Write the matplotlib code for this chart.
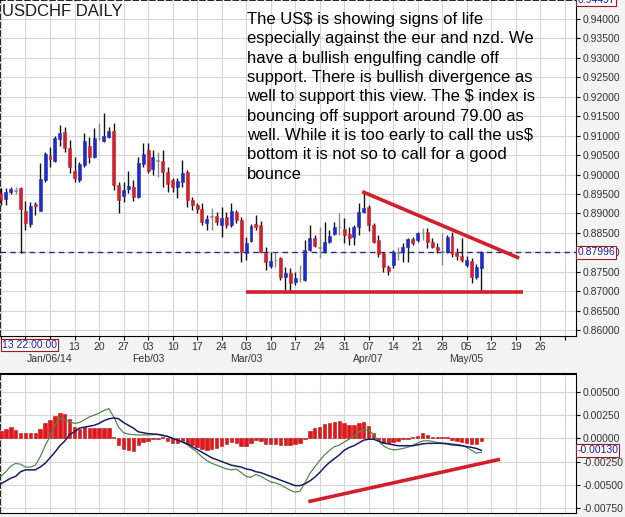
"""USDCHF daily candles with MACD panel"""
import numpy as np
import matplotlib
matplotlib.use("Agg")
from matplotlib import pyplot as plt
from matplotlib.ticker import FormatStrFormatter

plt.rcParams['font.family'] = ['Liberation Sans', 'DejaVu Sans']

# trading day index, 0 = Mon Jan 06 2014
days = np.arange(-10, 89)
opens = [0.8952, 0.8937, 0.8955, 0.8960, 0.8965, 0.8907, 0.8872, 0.8924, 0.8907, 0.8986,
         0.9047, 0.9036, 0.9091, 0.9110, 0.9069, 0.9008, 0.8986, 0.9025, 0.9074, 0.9046,
         0.9095, 0.9085, 0.9096, 0.9113, 0.8973, 0.8945, 0.8962, 0.8969, 0.8942, 0.9027,
         0.9062, 0.9015, 0.9037, 0.9036, 0.9007, 0.8986, 0.8969, 0.8982, 0.9007, 0.8934,
         0.8922, 0.8911, 0.8876, 0.8891, 0.8893, 0.8870, 0.8890, 0.8870, 0.8904, 0.8882,
         0.8798, 0.8829, 0.8873, 0.8870, 0.8797, 0.8764, 0.8780, 0.8785, 0.8736, 0.8747,
         0.8724, 0.8731, 0.8729, 0.8806, 0.8836, 0.8811, 0.8802, 0.8826, 0.8847, 0.8866,
         0.8859, 0.8846, 0.8840, 0.8866, 0.8904, 0.8916, 0.8870, 0.8832, 0.8797, 0.8763,
         0.8767, 0.8799, 0.8801, 0.8814, 0.8833, 0.8832, 0.8849, 0.8851, 0.8827, 0.8814,
         0.8802, 0.8801, 0.8842, 0.8801, 0.8790, 0.8767, 0.8778, 0.8736, 0.8760]
highs = [0.8966, 0.8966, 0.8969, 0.8969, 0.8967, 0.8933, 0.8930, 0.8930, 0.9029, 0.9059,
         0.9072, 0.9099, 0.9128, 0.9123, 0.9089, 0.9046, 0.9031, 0.9106, 0.9097, 0.9119,
         0.9132, 0.9158, 0.9123, 0.9132, 0.8982, 0.8982, 0.9010, 0.8986, 0.9046, 0.9081,
         0.9081, 0.9063, 0.9059, 0.9063, 0.9020, 0.8991, 0.8990, 0.9037, 0.9012, 0.8941,
         0.8928, 0.8926, 0.8896, 0.8913, 0.8904, 0.8917, 0.8904, 0.8926, 0.8909, 0.8891,
         0.8840, 0.8873, 0.8896, 0.8880, 0.8814, 0.8801, 0.8801, 0.8788, 0.8763, 0.8759,
         0.8749, 0.8767, 0.8832, 0.8870, 0.8844, 0.8865, 0.8879, 0.8857, 0.8878, 0.8900,
         0.8887, 0.8866, 0.8870, 0.8926, 0.8956, 0.8922, 0.8875, 0.8844, 0.8801, 0.8767,
         0.8806, 0.8814, 0.8823, 0.8836, 0.8839, 0.8853, 0.8862, 0.8862, 0.8836, 0.8823,
         0.8850, 0.8844, 0.8851, 0.8811, 0.8836, 0.8790, 0.8785, 0.8770, 0.8803]
lows = [0.8922, 0.8922, 0.8950, 0.8950, 0.8799, 0.8858, 0.8866, 0.8896, 0.8905, 0.8982,
        0.9019, 0.9031, 0.9074, 0.9059, 0.9003, 0.8982, 0.8982, 0.9020, 0.9029, 0.9042,
        0.9089, 0.9083, 0.9093, 0.8961, 0.8901, 0.8930, 0.8952, 0.8933, 0.8939, 0.9020,
        0.9003, 0.8999, 0.8994, 0.8969, 0.8956, 0.8956, 0.8939, 0.8969, 0.8917, 0.8909,
        0.8900, 0.8870, 0.8857, 0.8857, 0.8870, 0.8840, 0.8862, 0.8866, 0.8875, 0.8776,
        0.8780, 0.8826, 0.8857, 0.8799, 0.8754, 0.8760, 0.8762, 0.8729, 0.8702, 0.8699,
        0.8716, 0.8724, 0.8727, 0.8803, 0.8814, 0.8785, 0.8797, 0.8824, 0.8844, 0.8844,
        0.8823, 0.8819, 0.8819, 0.8844, 0.8900, 0.8855, 0.8823, 0.8789, 0.8750, 0.8742,
        0.8759, 0.8780, 0.8776, 0.8776, 0.8819, 0.8826, 0.8832, 0.8810, 0.8811, 0.8799,
        0.8767, 0.8798, 0.8787, 0.8780, 0.8775, 0.8763, 0.8720, 0.8731, 0.8701]
closes = [0.8935, 0.8956, 0.8962, 0.8957, 0.8911, 0.8875, 0.8919, 0.8920, 0.8988, 0.9053,
          0.9041, 0.9093, 0.9108, 0.9068, 0.9020, 0.8991, 0.9027, 0.9085, 0.9046, 0.9093,
          0.9093, 0.9099, 0.9113, 0.8973, 0.8935, 0.8959, 0.8971, 0.8942, 0.9029, 0.9053,
          0.9008, 0.9045, 0.9035, 0.9007, 0.8976, 0.8969, 0.8984, 0.9003, 0.8934, 0.8922,
          0.8911, 0.8879, 0.8886, 0.8893, 0.8879, 0.8887, 0.8870, 0.8906, 0.8883, 0.8801,
          0.8823, 0.8868, 0.8864, 0.8802, 0.8776, 0.8778, 0.8779, 0.8737, 0.8746, 0.8720,
          0.8733, 0.8732, 0.8805, 0.8836, 0.8817, 0.8814, 0.8827, 0.8842, 0.8865, 0.8864,
          0.8844, 0.8836, 0.8866, 0.8904, 0.8913, 0.8870, 0.8827, 0.8796, 0.8763, 0.8753,
          0.8801, 0.8800, 0.8814, 0.8833, 0.8824, 0.8850, 0.8850, 0.8827, 0.8814, 0.8806,
          0.8801, 0.8839, 0.8796, 0.8790, 0.8779, 0.8780, 0.8737, 0.8763, 0.8801]

macd_hist = [0.00083, 0.00100, 0.00119, 0.00090, 0.00054, 0.00054, 0.00054, 0.00054, 0.00100, 0.00162,
             0.00197, 0.00244, 0.00269, 0.00259, 0.00205, 0.00126, 0.00100, 0.00119, 0.00108, 0.00108,
             0.00108, 0.00108, 0.00108, 0.00010, -0.00072, -0.00119, -0.00126, -0.00137, -0.00072, -0.00036,
             -0.00029, -0.00010, -0.00010, 0.00010, -0.00025, -0.00047, -0.00047, -0.00030, -0.00061, -0.00072,
             -0.00097, -0.00119, -0.00126, -0.00119, -0.00100, -0.00083, -0.00061, -0.00036, -0.00047, -0.00083,
             -0.00083, -0.00047, -0.00020, -0.00030, -0.00061, -0.00061, -0.00061, -0.00072, -0.00072, -0.00072,
             -0.00061, -0.00047, -0.00010, 0.00080, 0.00114, 0.00126, 0.00151, 0.00169, 0.00180, 0.00187,
             0.00162, 0.00144, 0.00144, 0.00169, 0.00180, 0.00133, 0.00054, -0.00020, -0.00047, -0.00047,
             -0.00036, -0.00029, -0.00010, -0.00010, 0.00010, 0.00025, 0.00054, 0.00036, 0.00018, 0.00010,
             0.00010, 0.00010, -0.00018, -0.00025, -0.00036, -0.00054, -0.00061, -0.00061, -0.00025]
macd_line = [-0.0041, -0.0036, -0.0030, -0.0027, -0.0028, -0.0031, -0.0031, -0.0029, -0.0020, -0.0008,
             0.0002, 0.0014, 0.0022, 0.0020, 0.0018, 0.0016, 0.0017, 0.0020, 0.0023, 0.0025,
             0.0027, 0.0030, 0.0032, 0.0023, 0.0012, 0.0006, 0.00045, 0.0004, 0.00036, 0.00036,
             0.00036, 0.0004, 0.0004, 0.00036, 0.0002, 0.0, -0.0002, -0.0004, -0.0007, -0.0011,
             -0.0015, -0.0020, -0.0024, -0.0027, -0.0029, -0.0031, -0.0033, -0.0034, -0.0033, -0.0037,
             -0.0041, -0.0042, -0.0039, -0.0041, -0.0044, -0.0047, -0.0048, -0.0050, -0.0053, -0.0056,
             -0.0058, -0.0057, -0.0048, -0.0038, -0.0031, -0.0024, -0.0018, -0.0013, -0.0009, -0.00075,
             -0.0004, -0.0001, 0.0002, 0.0007, 0.0009, 0.0009, 0.0004, -0.0003, -0.0008, -0.0011,
             -0.00125, -0.0012, -0.0011, -0.00095, -0.00075, -0.0005, -0.0003, -0.00026, -0.00033, -0.00045,
             -0.0005, -0.00054, -0.0006, -0.00066, -0.00075, -0.00097, -0.0013, -0.0016, -0.0015]
signal_line = [-0.0049, -0.0046, -0.0043, -0.0041, -0.0036, -0.0034, -0.0034, -0.0034, -0.0031, -0.0027,
               -0.0021, -0.0015, -0.0008, -0.0003, 0.0004, 0.0007, 0.0011, 0.0012, 0.0013, 0.0014,
               0.0016, 0.0019, 0.0021, 0.0022, 0.0021, 0.0017, 0.0014, 0.0011, 0.0007, 0.0006,
               0.0005, 0.00046, 0.00043, 0.0003, 0.0002, 0.0, -0.0002, -0.0004, -0.0006, -0.0009,
               -0.0012, -0.0015, -0.0018, -0.0021, -0.0023, -0.0025, -0.0027, -0.0029, -0.0030, -0.0031,
               -0.0033, -0.0034, -0.0036, -0.0037, -0.0039, -0.0041, -0.0043, -0.0045, -0.0047, -0.0049,
               -0.0051, -0.0051, -0.0049, -0.0046, -0.0042, -0.0037, -0.0031, -0.0026, -0.0022, -0.0018,
               -0.0013, -0.0010, -0.0008, -0.0005, -0.0002, -0.0001, -0.0001, -0.0003, -0.0005, -0.0006,
               -0.0007, -0.0008, -0.0008, -0.0008, -0.0008, -0.0007, -0.0006, -0.00055, -0.00054, -0.00054,
               -0.00055, -0.0006, -0.0007, -0.00075, -0.0008, -0.0009, -0.00097, -0.0011, -0.0013]

# hand drawn lines on the chart
support_x, support_y = [40, 96.5], [0.8698, 0.8698]
resist_x, resist_y = [63.7, 95.7], [0.8956, 0.8785]
diverg_x, diverg_y = [52.7, 91.8], [-0.00683, -0.00226]
last_price = 0.87996
top_price = 0.94497
last_macd = -0.00130

week_ticks = np.arange(-10, 106, 5)
week_labels = ['', '', '06', '13', '20', '27', '03', '10', '17', '24', '03', '10', '17',
               '24', '31', '07', '14', '21', '28', '05', '12', '19', '26', '']
month_labels = {0: 'Jan/06/14', 20: 'Feb/03', 40: 'Mar/03', 65: 'Apr/07', 85: 'May/05'}

note = ("The US$ is showing signs of life\n"
        "especially against the eur and nzd. We\n"
        "have a bullish engulfing candle off\n"
        "support. There is bullish divergence as\n"
        "well to support this view. The $ index is\n"
        "bouncing off support around 79.00 as\n"
        "well. While it is too early to call the us$\n"
        "bottom it is not so to call for a good\n"
        "bounce")

RED = '#d0202a'
BLUE = '#1c2cc8'
GRID = '#d6d6d6'
LABEL_BOX = dict(boxstyle='square,pad=0.12', fc='white', ec='#a01818', lw=0.8)


def draw_candles(ax):
    """Wicks as vlines, bodies as bars"""
    o = np.array(opens)
    c = np.array(closes)
    doji = np.abs(c - o) < 0.0003
    colors = np.where(c > o, BLUE, RED)
    colors = np.where(doji, '#8a8a8a', colors)
    wick_colors = np.where(doji, '#8a8a8a', '#111111')
    ax.vlines(days, lows, highs, colors=wick_colors, lw=1, zorder=3)
    bottoms = np.minimum(o, c)
    heights = np.maximum(np.abs(c - o), 0.00012)
    ax.bar(days, heights, bottom=bottoms, width=0.6, color=colors,
           edgecolor=colors, lw=0.4, zorder=4)


def main():
    """Build the figure"""
    fig = plt.figure(figsize=(6.25, 5.17), dpi=100, facecolor='#f3f3f3')
    ax = fig.add_axes([0.0, 1 - 336 / 517, 576 / 625, 336 / 517])
    ax2 = fig.add_axes([0.0, 1 - 513 / 517, 576 / 625, 139 / 517])

    for a in (ax, ax2):
        a.set_facecolor('white')
        a.set_xlim(-10.2, 107.3)
        a.set_xticks(week_ticks)
        a.grid(True, color=GRID, lw=0.8)
        a.set_axisbelow(True)
        a.yaxis.tick_right()
        a.tick_params(axis='y', direction='out', length=3, pad=2,
                      labelsize=7.5, labelcolor='#333333')
        a.spines['left'].set_linestyle((0, (3, 2)))
        a.spines['left'].set_linewidth(1.2)

    # price panel
    draw_candles(ax)
    ax.set_ylim(0.85847, 0.94489)
    ax.set_yticks(np.arange(0.86, 0.9401, 0.005))
    ax.yaxis.set_major_formatter(FormatStrFormatter('%.5f'))
    ax.spines['top'].set_linestyle((0, (3, 2)))
    ax.spines['top'].set_linewidth(1.2)
    ax.axhline(last_price, color='#2a2a9a', ls=(0, (4, 3)), lw=1, zorder=2)
    ax.plot(support_x, support_y, color=RED, lw=2.6, zorder=5, solid_capstyle='butt')
    ax.plot(resist_x, resist_y, color=RED, lw=2.6, zorder=5, solid_capstyle='butt')

    labels = []
    for t, lab in zip(week_ticks, week_labels):
        labels.append(lab + ('\n' + month_labels[t] if t in month_labels else '\n'))
    ax.set_xticklabels(labels, fontsize=7.5, color='#333333', linespacing=1.25)
    ax.tick_params(axis='x', direction='out', length=3, pad=1)

    ax.text(1.002, last_price, '%.5f' % last_price, transform=ax.get_yaxis_transform(),
            va='center', ha='left', fontsize=7.5, color='#1a1aa8', bbox=LABEL_BOX,
            clip_on=False)
    ax.text(1.002, top_price, '%.5f' % top_price, transform=ax.get_yaxis_transform(),
            va='center', ha='left', fontsize=7.5, color='#1a1aa8', bbox=LABEL_BOX,
            clip_on=False)
    ax.text(0.004, 0.988, 'USDCHF DAILY', transform=ax.transAxes, va='top', ha='left',
            fontsize=12, color='#1a1a1a')
    fig.text(247 / 625, 1 - 12 / 517, note, va='top', ha='left', fontsize=12,
             color='black', linespacing=1.36)
    fig.text(0.003, 1 - 345 / 517, '13 22:00:00', va='center', ha='left', fontsize=7.5,
             color='#1a1aa8', bbox=LABEL_BOX, zorder=10)

    # MACD panel
    ax2.bar(days, macd_hist, width=0.7, color='#e4161c', edgecolor='#b81010', lw=0.4, zorder=3)
    ax2.plot(days, macd_line, color='#4f8a4f', lw=0.9, zorder=4)
    ax2.plot(days, signal_line, color='#1c1c66', lw=1.1, zorder=4)
    ax2.plot(diverg_x, diverg_y, color=RED, lw=2.6, zorder=5, solid_capstyle='butt')
    ax2.set_ylim(-0.00805, 0.00693)
    ax2.set_yticks([0.005, 0.0025, 0.0, -0.0025, -0.005, -0.0075])
    ax2.yaxis.set_major_formatter(FormatStrFormatter('%.5f'))
    ax2.tick_params(axis='x', length=0, labelbottom=False)
    ax2.spines['top'].set_linewidth(1.5)
    ax2.text(1.002, last_macd, '%.5f' % last_macd, transform=ax2.get_yaxis_transform(),
             va='center', ha='left', fontsize=7.5, color='#1a1aa8', bbox=LABEL_BOX,
             clip_on=False)

    fig.savefig('out.png', dpi=100, facecolor=fig.get_facecolor())


if __name__ == '__main__':
    main()
